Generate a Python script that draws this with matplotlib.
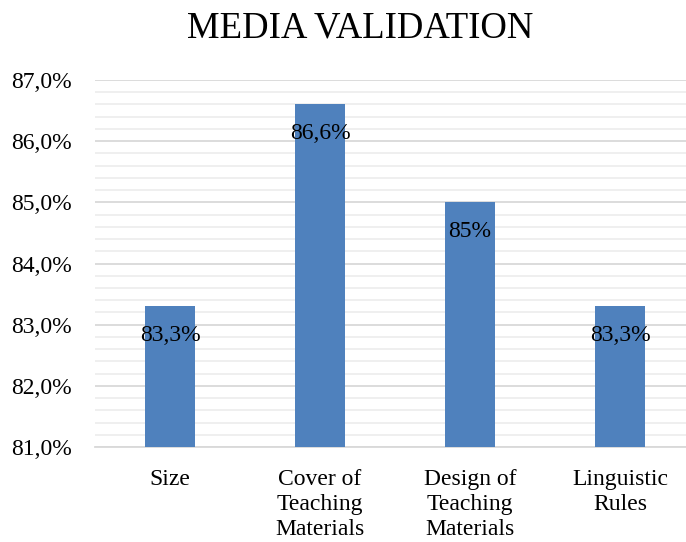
import numpy as np
import matplotlib
matplotlib.use("Agg")
from matplotlib import pyplot as plt
from matplotlib.ticker import MultipleLocator, FuncFormatter

categories = ["Size", "Cover of\nTeaching\nMaterials", "Design of\nTeaching\nMaterials", "Linguistic\nRules"]
values = [83.3, 86.6, 85.0, 83.3]
value_labels = ["83,3%", "86,6%", "85%", "83,3%"]

plt.rcParams["font.family"] = ["Liberation Serif", "DejaVu Serif"]

fig = plt.figure(figsize=(6.86, 5.42), dpi=100)
ax = fig.add_axes([95 / 686, 1 - 447 / 542, 591 / 686, (447 - 80) / 542])

x = np.arange(len(categories))
ax.bar(x, values, width=0.33, color="#4F81BD", zorder=3, bottom=0)
ax.set_ylim(81, 87)
ax.set_xlim(-0.5, 3.44)

ax.yaxis.set_major_locator(MultipleLocator(1))
ax.yaxis.set_minor_locator(MultipleLocator(0.2))
ax.yaxis.set_major_formatter(FuncFormatter(lambda v, p: f"{v:.1f}%".replace(".", ",")))
ax.grid(axis="y", which="major", color="#D9D9D9", linewidth=1.3, zorder=0)
ax.grid(axis="y", which="minor", color="#EEEEEE", linewidth=1.3, zorder=0)
ax.tick_params(axis="both", which="both", length=0, labelsize=17)
ax.tick_params(axis="y", pad=16.5)
ax.tick_params(axis="x", pad=16)
ax.set_xticks(x)
ax.set_xticklabels(categories, linespacing=1.25)

for s in ["top", "right", "left"]:
    ax.spines[s].set_visible(False)
ax.spines["bottom"].set_color("#D9D9D9")
ax.spines["bottom"].set_linewidth(1.3)

for xi, v, lab in zip(x, values, value_labels):
    ax.annotate(lab, (xi, v), xytext=(0, -21), textcoords="offset points",
                ha="center", va="center", fontsize=17, zorder=4)

fig.text(0.525, 0.947, "MEDIA VALIDATION", ha="center", va="center", fontsize=26.5)

fig.savefig("out.png", dpi=100)
